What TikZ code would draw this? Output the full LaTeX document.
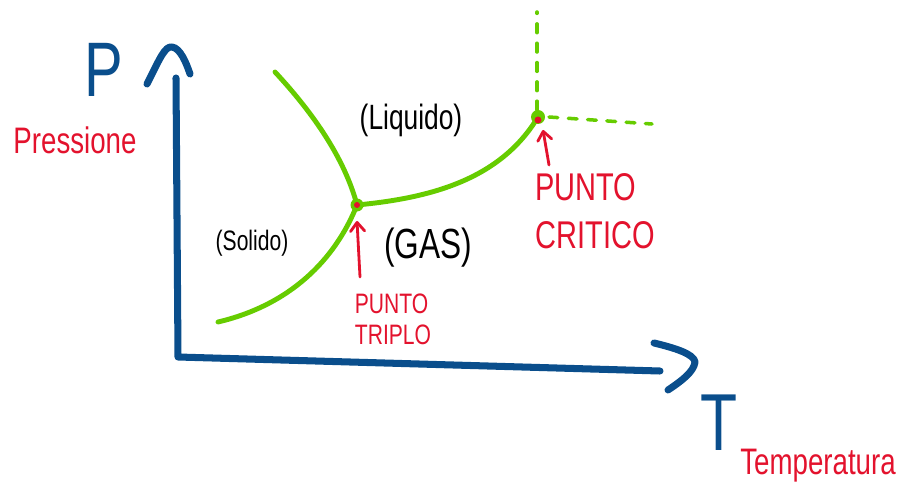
\documentclass[tikz,border=0pt]{standalone}
\usepackage{fontspec}
\newfontfamily\handfont[FakeStretch=0.75]{Liberation Sans}
\usetikzlibrary{arrows.meta}
\definecolor{axBlue}{HTML}{0A4E8C}
\definecolor{phGreen}{HTML}{66CC00}
\definecolor{mkRed}{HTML}{E3122D}
\tikzset{
  every node/.style={font=\handfont, inner sep=0pt},
  axis/.style={draw=axBlue, line width=4pt, line cap=round, line join=round},
  phase/.style={draw=phGreen, line width=2.8pt, line cap=round},
  phaseDash/.style={draw=phGreen, line width=2pt, line cap=round, dash pattern=on 5pt off 6pt},
  pointer/.style={-{Straight Barb[length=5pt, width=8pt, round]}, draw=mkRed, line width=1.6pt, line cap=round},
  axLbl/.style={text=axBlue, font=\handfont\fontsize{44}{48}\selectfont},
  qtyLbl/.style={text=mkRed, font=\handfont\fontsize{21}{24}\selectfont},
  phLbl/.style={text=black},
  ptLbl/.style={text=mkRed, align=left},
}

\begin{document}
\begin{tikzpicture}[x=0.02cm, y=-0.02cm]
  \useasboundingbox (0,0) rectangle (898,503);
  % --- axes, hand drawn ---
  \draw[axis] (176,78) -- (178,357) -- (660,371);
  \draw[axis] (147,84) .. controls (160,58) and (165,46) .. (172,47)
              .. controls (180,48) and (186,62) .. (190,74);
  \draw[axis] (654,343) .. controls (675,348) and (694,354) .. (695,362)
              .. controls (694,372) and (680,382) .. (668,390);
  \node[axLbl] (pLbl) at (104,70) {P};
  \node[axLbl, font=\handfont\fontsize{46}{48}\selectfont] (tLbl) at (719,423) {T};
  \node[qtyLbl] (pressLbl) at (75,140) {Pressione};
  \node[qtyLbl] (tempLbl) at (818,466) {Temperatura};
  % --- phase boundaries ---
  \coordinate (triple) at (357,205);
  \coordinate (crit) at (538,117);
  \draw[phase] (275,72) .. controls (315,115) and (345,160) .. (triple);
  \draw[phase] (218,322) .. controls (290,305) and (335,260) .. (triple);
  \draw[phase] (triple) .. controls (430,198) and (500,180) .. (crit);
  \draw[phaseDash] (537,110) -- (537,12);
  \draw[phaseDash] (549,117) -- (652,124);
  \fill[phGreen] (triple) circle (6.5);
  \fill[mkRed] (triple) circle (3);
  \fill[phGreen] (crit) circle (7);
  \fill[mkRed] ([yshift=-0.06cm]crit) circle (3.5);
  % --- regions ---
  \node[phLbl, font=\handfont\fontsize{20}{22}\selectfont] (liqLbl) at (411,120) {(Liquido)};
  \node[phLbl, font=\handfont\fontsize{16}{18}\selectfont] (solLbl) at (252,243) {(Solido)};
  \node[phLbl, font=\handfont\fontsize{24}{26}\selectfont] (gasLbl) at (428,248) {(GAS)};
  % --- special points ---
  \node[ptLbl, font=\handfont\fontsize{16}{17.5}\selectfont] (tripleLbl) at (393,319) {PUNTO\\ TRIPLO};
  \node[ptLbl, font=\handfont\fontsize{22}{27}\selectfont] (critLbl) at (595,211) {PUNTO\\ CRITICO};
  \coordinate (tripleTail) at (360,277);
  \coordinate (critTail) at (549,165);
  \draw[pointer] (tripleTail) -- ([yshift=-0.32cm]triple);
  \draw[pointer] (critTail) -- ([xshift=0.1cm, yshift=-0.26cm]crit);
\end{tikzpicture}
\end{document}
